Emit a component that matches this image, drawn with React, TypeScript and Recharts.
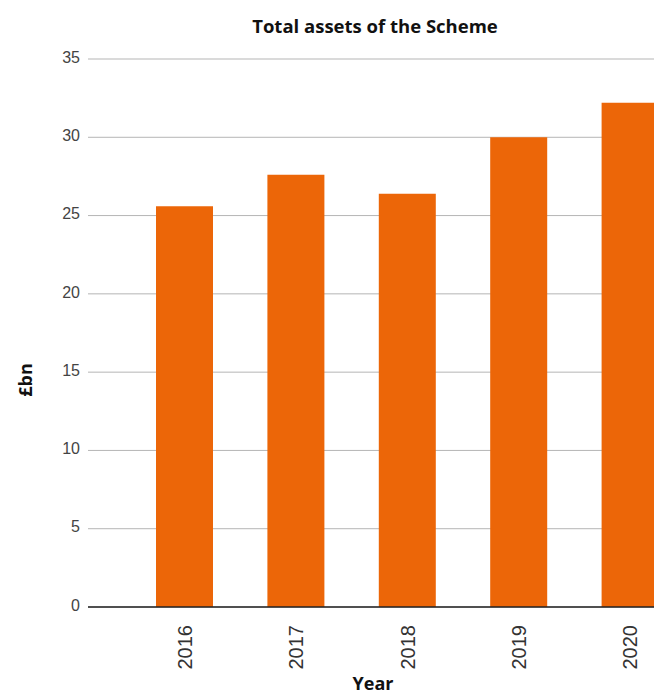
import React from 'react';
import { BarChart, Bar, XAxis, YAxis, CartesianGrid } from 'recharts';

const years = ['2016', '2017', '2018', '2019', '2020'];
const totalAssets = [25.6, 27.6, 26.4, 30.0, 32.2];
const yTicks = [0, 5, 10, 15, 20, 25, 30, 35];

const data = years.map((y, i) => ({ year: y, value: totalAssets[i] }));

const XTick = (props: any) => {
  const { x, y, payload } = props;
  const ty = y + 10;
  return (
    <text
      x={x}
      y={ty}
      transform={`rotate(-90 ${x} ${ty})`}
      textAnchor="end"
      dominantBaseline="central"
      fill="#333"
      fontSize={20}
      fontFamily="'Liberation Sans Narrow', 'Liberation Sans', sans-serif"
    >
      {payload.value}
    </text>
  );
};

export default function App() {
  return (
    <div style={{ position: 'relative', width: 646, height: 686, overflow: 'hidden', background: '#fff' }}>
      <style>{'html { overflow: hidden; } body { margin: 8px 0 0 8px; }'}</style>
      <div
        style={{
          position: 'absolute',
          left: 367,
          top: 8,
          transform: 'translateX(-50%)',
          whiteSpace: 'nowrap',
          fontFamily: "'Open Sans', sans-serif",
          fontWeight: 700,
          fontSize: 18.5,
          lineHeight: '19px',
          color: '#111',
        }}
      >
        Total assets of the Scheme
      </div>
      <BarChart
        width={700}
        height={686}
        data={data}
        margin={{ top: 51, right: 22, bottom: 0, left: 0 }}
      >
        <CartesianGrid horizontal vertical={false} stroke="#b5b5b5" strokeWidth={1} />
        <XAxis
          dataKey="year"
          height={87}
          padding={{ left: 41, right: 0 }}
          tickLine={false}
          axisLine={{ stroke: '#222', strokeWidth: 1.5 }}
          tick={<XTick />}
          interval={0}
        />
        <YAxis
          width={80}
          domain={[0, 35]}
          ticks={yTicks}
          tickLine={false}
          axisLine={false}
          tick={{
            fill: '#444',
            fontSize: 16,
            fontFamily: "'Liberation Sans Narrow', 'Liberation Sans', sans-serif",
            dy: -2,
          }}
        />
        <Bar dataKey="value" fill="#EC6608" barSize={57} isAnimationActive={false} />
      </BarChart>
      <div
        style={{
          position: 'absolute',
          left: 365,
          top: 666,
          transform: 'translateX(-50%)',
          fontFamily: "'Open Sans', sans-serif",
          fontWeight: 700,
          fontSize: 18,
          lineHeight: '19px',
          color: '#111',
        }}
      >
        Year
      </div>
      <div
        style={{
          position: 'absolute',
          left: 17,
          top: 372,
          transform: 'translate(-50%, -50%) rotate(-90deg)',
          fontFamily: "'Open Sans', sans-serif",
          fontWeight: 700,
          fontSize: 18,
          lineHeight: '19px',
          color: '#111',
          whiteSpace: 'nowrap',
        }}
      >
        £bn
      </div>
    </div>
  );
}
